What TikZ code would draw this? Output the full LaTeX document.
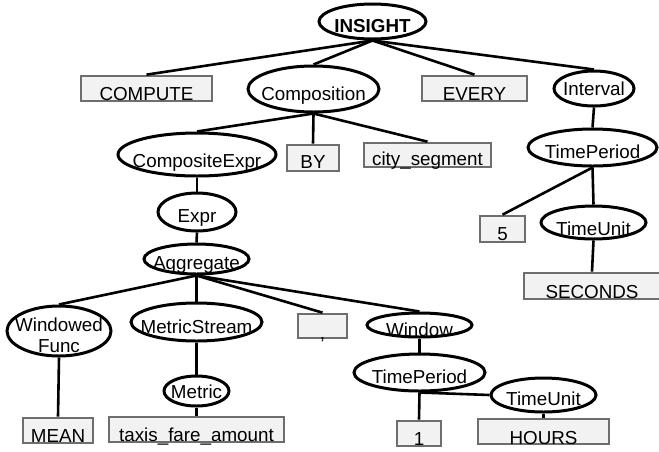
\documentclass[tikz,border=0pt]{standalone}
\usepackage{fontspec}
\setmainfont{Liberation Sans}
\usetikzlibrary{shapes.geometric}

% text placed with its baseline #1 pt below the node centre, taking no room
\newcommand\nlab[2]{\raisebox{-#1pt}[0pt][0pt]{\makebox[0pt]{#2}}}

\definecolor{boxline}{HTML}{6E6E6E}
\definecolor{boxfill}{HTML}{F2F2F2}

\tikzset{
  nt/.style={ellipse, draw=black, line width=3pt, fill=white, inner sep=0pt,
    font=\fontsize{18.8}{22}\selectfont},
  tm/.style={rectangle, draw=boxline, line width=2.7pt, fill=boxfill, inner sep=0pt,
    font=\fontsize{18.8}{22}\selectfont},
  edge/.style={line width=2.6pt, black},
}

\begin{document}
\begin{tikzpicture}[x=1pt, y=-1pt]
\useasboundingbox (0,0) rectangle (659,451);

% row 0
\node[nt, minimum width=107, minimum height=35] (insight) at (372.5,21.5)
  {\nlab{10.5}{\bfseries INSIGHT}};

% row 1
\node[tm, minimum width=131, minimum height=25] (compute) at (146.5,88.5) {\nlab{11.5}{COMPUTE}};
\node[nt, minimum width=131, minimum height=46] (composition) at (313.5,89) {\nlab{11}{Composition}};
\node[tm, minimum width=105, minimum height=25] (every) at (474.5,88.5) {\nlab{11.5}{EVERY}};
\node[nt, minimum width=80, minimum height=35] (interval) at (594,88.5) {\nlab{6.5}{Interval}};

% row 2
\node[nt, minimum width=158, minimum height=43] (compexpr) at (197,154.5) {\nlab{12.5}{CompositeExpr}};
\node[tm, minimum width=52, minimum height=26] (by) at (313,158) {\nlab{10}{BY}};
\node[tm, minimum width=127, minimum height=24] (city) at (427.5,155) {\nlab{10}{city\_segment}};
\node[nt, minimum width=129, minimum height=37] (tpa) at (592.5,147.5) {\nlab{10.5}{TimePeriod}};

% row 3
\node[nt, minimum width=78, minimum height=38] (expr) at (197,212) {\nlab{10}{Expr}};
\node[tm, minimum width=45, minimum height=26] (five) at (502.5,229) {\nlab{11}{5}};
\node[nt, minimum width=105, minimum height=33] (tua) at (593.5,222.5) {\nlab{13}{TimeUnit}};

% row 4
\node[nt, minimum width=105, minimum height=30] (agg) at (196.5,259) {\nlab{10}{Aggregate}};
\node[tm, minimum width=136, minimum height=26] (seconds) at (592,286) {\nlab{12}{SECONDS}};

% row 5
\node[nt, minimum width=104, minimum height=50] (wf) at (59,331)
  {\nlab{0}{Windowed}\nlab{21}{Func}};
\node[nt, minimum width=131, minimum height=38] (ms) at (196.5,322) {\nlab{11}{MetricStream}};
\node[tm, minimum width=49, minimum height=24] (comma) at (322.5,326) {\nlab{13}{,}};
\node[nt, minimum width=105, minimum height=24] (window) at (419.5,325) {\nlab{11}{Window}};

% row 6
\node[nt, minimum width=131, minimum height=37] (tpb) at (419.5,372.5) {\nlab{10.5}{TimePeriod}};
\node[nt, minimum width=105, minimum height=34] (tub) at (543.5,395) {\nlab{10}{TimeUnit}};
\node[nt, minimum width=65, minimum height=30] (metric) at (196.5,391) {\nlab{7}{Metric}};

% row 7
\node[tm, minimum width=70, minimum height=25] (mean) at (58,430.5) {\nlab{11.5}{MEAN}};
\node[tm, minimum width=175, minimum height=25] (taxis) at (196.5,429.5) {\nlab{11.5}{taxis\_fare\_amount}};
\node[tm, minimum width=44, minimum height=25] (one) at (419,433.5) {\nlab{11.5}{1}};
\node[tm, minimum width=131, minimum height=25] (hours) at (543.5,431.5) {\nlab{12.5}{HOURS}};

% connectors
\foreach \p/\c in {insight/compute, insight/composition, insight/every, insight/interval,
                   composition/compexpr, composition/by, composition/city,
                   interval/tpa, tpa/five, tpa/tua, tua/seconds,
                   compexpr/expr, expr/agg,
                   agg/wf, agg/ms, agg/comma, agg/window,
                   wf/mean, ms/metric, metric/taxis,
                   window/tpb, tpb/one, tub/hours}
  \draw[edge] (\p.south) -- (\c.north);
\draw[edge] (tpb.south) -- (tub.west);
\end{tikzpicture}
\end{document}
